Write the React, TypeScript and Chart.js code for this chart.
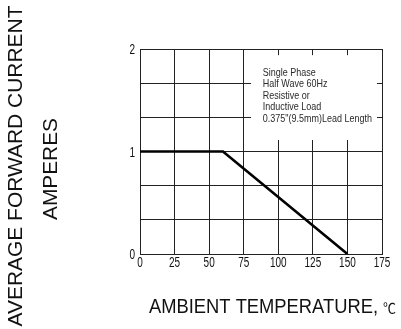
import React, { useEffect, useRef } from "react";
import { Chart, registerables } from "chart.js";

Chart.register(...registerables);

// ---- data ----
const TEMPERATURE = [0, 60, 150];
const CURRENT = [1, 1, 0];
const X_TICKS = [0, 25, 50, 75, 100, 125, 150, 175];
const Y_GRID = [0, 1 / 3, 2 / 3, 1, 4 / 3, 5 / 3, 2];
const Y_TICK_LABELS = [0, 1, 2];
const NOTE_LINES = [
  "Single Phase",
  "Half Wave 60Hz",
  "Resistive or",
  "Inductive Load",
  '0.375"(9.5mm)Lead Length',
];
const Y_TITLE = ["AVERAGE FORWARD CURRENT", "AMPERES"];
const X_TITLE = "AMBIENT TEMPERATURE,";
const X_UNIT = "℃";
// note box extent in data units
const NOTE_BOX = { x0: 80.3, x1: 171.4, y0: 1.112, y1: 1.94 };

const FONT = "'Liberation Sans', Arial, sans-serif";
const INK = "#111";

function stretchedText(
  ctx: CanvasRenderingContext2D,
  text: string,
  x: number,
  y: number,
  font: string,
  sx: number,
  sy: number,
  align: CanvasTextAlign,
  rotate = false
) {
  ctx.save();
  ctx.font = font;
  ctx.textAlign = align;
  ctx.textBaseline = "alphabetic";
  ctx.translate(x, y);
  if (rotate) ctx.rotate(-Math.PI / 2);
  ctx.scale(sx, sy);
  ctx.fillText(text, 0, 0);
  ctx.restore();
}

function fitWidth(ctx: CanvasRenderingContext2D, text: string, font: string, target: number) {
  ctx.save();
  ctx.font = font;
  const w = ctx.measureText(text).width;
  ctx.restore();
  return target / w;
}

const decor = {
  id: "decor",
  beforeDatasetsDraw(chart: any) {
    const { ctx } = chart;
    const xs = chart.scales.x;
    const ys = chart.scales.y;
    const l = xs.getPixelForValue(NOTE_BOX.x0);
    const r = xs.getPixelForValue(NOTE_BOX.x1);
    const t = ys.getPixelForValue(NOTE_BOX.y1);
    const b = ys.getPixelForValue(NOTE_BOX.y0);
    ctx.save();
    ctx.fillStyle = "#fff";
    ctx.fillRect(l, t, r - l, b - t);
    ctx.fillStyle = "#2a2a2a";
    NOTE_LINES.forEach((s, i) => {
      stretchedText(ctx, s, l + 11.7, t + 20.5 + i * 11.5, `9px ${FONT}`, 1, 1.15, "left");
    });
    ctx.restore();
  },
  afterDraw(chart: any) {
    const { ctx, chartArea } = chart;
    const xs = chart.scales.x;
    const ys = chart.scales.y;
    ctx.save();
    ctx.fillStyle = INK;
    // x tick labels
    X_TICKS.forEach((v) => {
      stretchedText(ctx, String(v), xs.getPixelForValue(v), chartArea.bottom + 13, `10px ${FONT}`, 1, 1.45, "center");
    });
    // y tick labels
    Y_TICK_LABELS.forEach((v) => {
      stretchedText(ctx, String(v), chartArea.left - 5, ys.getPixelForValue(v) + 5, `10px ${FONT}`, 1, 1.45, "right");
    });
    // x title
    const xf = `18.3px ${FONT}`;
    const sxT = fitWidth(ctx, X_TITLE, xf, 229);
    stretchedText(ctx, X_TITLE, 149, 313, xf, sxT, 1.15, "left");
    stretchedText(ctx, X_UNIT, 383, 313, `13px 'Noto Sans CJK SC', 'DejaVu Sans', sans-serif`, 1, 1.05, "left");
    // y title
    const yf = `20px ${FONT}`;
    const s1 = fitWidth(ctx, Y_TITLE[0], yf, 321);
    stretchedText(ctx, Y_TITLE[0], 22, 166, yf, s1, 1, "center", true);
    const s2 = fitWidth(ctx, Y_TITLE[1], yf, 102);
    stretchedText(ctx, Y_TITLE[1], 57, 169, yf, s2, 1, "center", true);
    ctx.restore();
  },
};

export default function App() {
  const ref = useRef<HTMLCanvasElement | null>(null);
  useEffect(() => {
    if (!ref.current) return;
    const chart = new Chart(ref.current, {
      type: "line",
      data: {
        datasets: [
          {
            data: TEMPERATURE.map((t, i) => ({ x: t, y: CURRENT[i] })),
            borderColor: "#000",
            borderWidth: 2.6,
            pointRadius: 0,
            tension: 0,
            fill: false,
          },
        ],
      },
      options: {
        animation: false,
        responsive: false,
        devicePixelRatio: 1,
        layout: { padding: { left: 100, right: 19, top: 49, bottom: 55 } },
        plugins: { legend: { display: false }, tooltip: { enabled: false } },
        scales: {
          x: {
            type: "linear",
            min: 0,
            max: 175,
            ticks: { display: false, stepSize: 25 },
            grid: { color: "#222", lineWidth: 1, drawTicks: false },
            border: { color: "#222", width: 1 },
            afterFit: (s: any) => {
              s.height = 20;
              s.paddingLeft = 0;
              s.paddingRight = 0;
            },
          },
          y: {
            type: "linear",
            min: 0,
            max: 2,
            ticks: { display: false },
            grid: { color: "#222", lineWidth: 1, drawTicks: false },
            border: { color: "#222", width: 1 },
            afterBuildTicks: (s: any) => {
              s.ticks = Y_GRID.map((v) => ({ value: v }));
            },
            afterFit: (s: any) => {
              s.width = 40;
              s.paddingTop = 0;
              s.paddingBottom = 0;
            },
          },
        },
      },
      plugins: [decor],
    } as any);
    return () => chart.destroy();
  }, []);
  return (
    <canvas
      ref={ref}
      width={401}
      height={329}
      style={{ position: "fixed", left: 0, top: 0, width: 401, height: 329, display: "block" }}
    />
  );
}
